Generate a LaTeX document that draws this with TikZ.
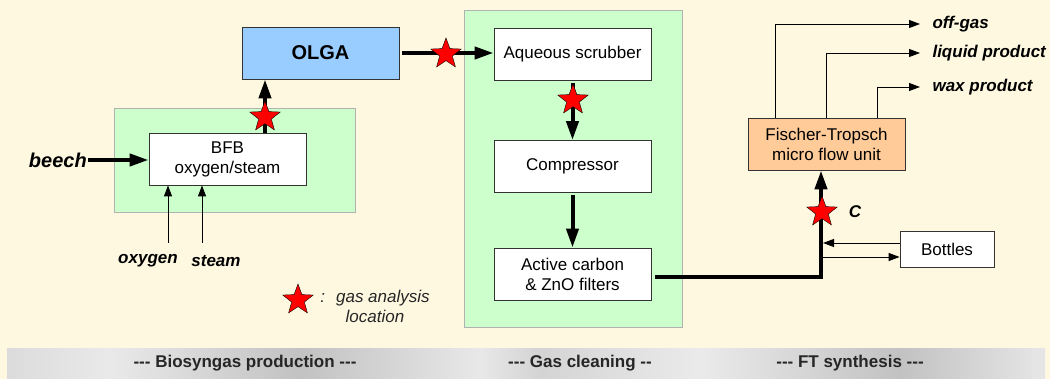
\documentclass[tikz,border=0pt]{standalone}
\usepackage{fontspec}
\setmainfont{Liberation Sans}
\usetikzlibrary{positioning,arrows.meta,shapes.geometric,calc}
\definecolor{cream}{HTML}{FEF8E0}
\definecolor{mint}{HTML}{CCFFCC}
\definecolor{sky}{HTML}{99CCFF}
\definecolor{peach}{HTML}{FFCC99}
\newcommand{\boxfont}{\fontsize{17}{20}\selectfont}
\tikzset{
  unit/.style ={draw=black!80, fill=white, thick, minimum width=157pt, minimum height=52pt, inner sep=2pt, align=center, font=\boxfont},
  zone/.style ={draw=black!30, fill=mint, thick},
  flow/.style ={-{Triangle[length=19pt,width=12pt]}, line width=4pt},
  feed/.style ={-{Triangle[length=11pt,width=8pt]}, line width=0.9pt},
  probe/.style={star, star points=5, star point ratio=2.4, fill=red, draw=black, thin, minimum size=32pt, inner sep=0pt},
  tag/.style  ={font=\boxfont\bfseries\itshape},
  phase/.style={font=\boxfont\bfseries, text=black!85},
}
\begin{document}
\begin{tikzpicture}[x=1pt, y=-1pt]
        % background and phase band
        \fill[cream] (0,0) rectangle (1050,379);
        \foreach \xa/\xb/\ca/\cb in {7/110/28/17, 110/300/17/48, 300/480/48/18, 480/540/18/34,
                                     540/700/34/16, 700/900/16/48, 900/1032/48/22, 1032/1045/20/20}
          \shade[left color=gray!\ca, right color=gray!\cb] (\xa,349) rectangle (\xb,379);
        \node[phase] (p1) at (245,363) {-{}-{}- Biosyngas production -{}-{}-};
        \node[phase] (p2) at (580,363) {-{}-{}- Gas cleaning -{}-};
        \node[phase] (p3) at (850,363) {-{}-{}- FT synthesis -{}-{}-};

        % green zones
        \draw[zone] (114,108) rectangle (355,212);
        \draw[zone] (464,10) rectangle (682,327);

        % units
        \node[unit]              (bfb)   at (227.5,159) {BFB\\oxygen/steam};
        \node[unit, fill=sky, font=\fontsize{20}{24}\selectfont\bfseries] (olga) at (320.5,53) {OLGA};
        \node[unit]              (scrub) at (572.5,54.5) {Aqueous scrubber};
        \node[unit]              (comp)  at (572.5,166.5) {Compressor};
        \node[unit]              (filt)  at (572.5,274) {Active carbon\\\& ZnO filters};
        \node[unit, fill=peach]  (ft)    at (826.5,144) {Fischer-Tropsch\\micro flow unit};
        \node[unit, minimum width=94pt, minimum height=36pt] (bot) at (947,249) {Bottles};

        % feeds
        \node[tag, font=\fontsize{20}{24}\selectfont\bfseries\itshape, anchor=east, inner sep=1pt] (beech) at (88,160) {beech};
        \node[tag] (oxy)   at (148,261) {oxygen};
        \node[tag] (steam) at (216,261) {steam};
        \coordinate (o2) at (168,243);
        \coordinate (h2o) at (202,243);
        \draw[flow] (beech.east) -- (beech.east -| bfb.west);
        \draw[feed] (o2) -- (o2 |- bfb.south);
        \draw[feed] (h2o) -- (h2o |- bfb.south);

        % main gas line
        \draw[flow] ([xshift=37.5pt]bfb.north) -- ([xshift=37.5pt]bfb.north |- olga.south);
        \draw[flow, shorten <=3pt] (olga.east) -- (olga.east -| scrub.west);
        \draw[flow, shorten <=2pt] (scrub.south) -- (comp.north);
        \draw[flow, shorten <=2pt] (comp.south) -- (filt.north);
        \draw[flow, shorten <=4pt] ([yshift=-3pt]filt.east) -| ([xshift=-5.5pt]ft.south);

        % bottles
        \coordinate (tap) at (823,250);
        \draw[feed] ([yshift=6pt]bot.west) -- ([yshift=6pt]bot.west -| tap);
        \draw[feed] ([yshift=-8pt]bot.west -| tap) -- ([yshift=-8pt]bot.west);

        % FT products
        \node[tag, anchor=west] (offgas) at (929,24) {off-gas};
        \node[tag, anchor=west] (liquid) at (929,53) {liquid product};
        \node[tag, anchor=west] (wax)    at (929,87) {wax product};
        \draw[feed, shorten >=9pt] ([xshift=-51.5pt]ft.north) |- (offgas.west);
        \draw[feed, shorten >=9pt] ([xshift=-0.5pt]ft.north) |- (liquid.west);
        \draw[feed, shorten >=9pt] ([xshift=50.5pt]ft.north) |- (wax.west);

        % analysis points
        \node[probe] (s1) at (265,117) {};
        \node[probe] (s2) at (446,54) {};
        \node[probe] (s3) at (573,100) {};
        \node[probe] (s4) at (822,212) {};
        \node[tag] (cpt) at (855,212) {C};

        % legend
        \node[probe] (s5) at (298,300) {};
        \node[font=\boxfont\itshape, align=center, text=black!85] (leg) at (375,306) {:~ gas analysis\\location};
      \end{tikzpicture}
\end{document}
